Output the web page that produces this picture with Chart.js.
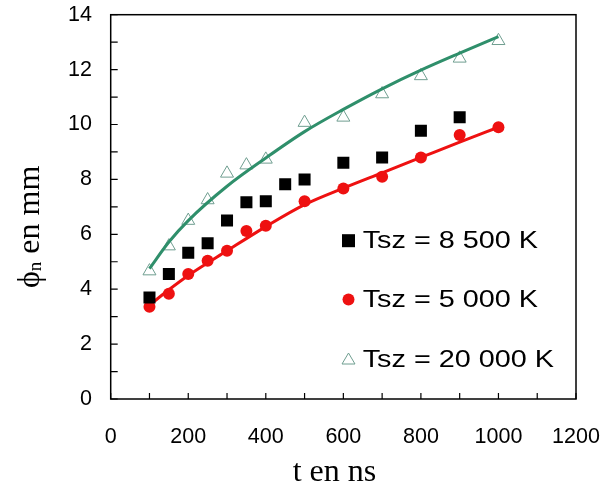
<!DOCTYPE html>
<html>
<head>
<meta charset="utf-8">
<script src="https://cdn.jsdelivr.net/npm/chart.js@4"></script>
<style>
  body { margin: 0; background: #fff; }
  #wrap { width: 602px; height: 486px; }
</style>
</head>
<body>
<div id="wrap"><canvas id="chart" width="602" height="486"></canvas></div>
<script>
// ================= DONNEES =================
const tCarres = [100, 150, 200, 250, 300, 350, 400, 450, 500, 600, 700, 800, 900];
const phiCarres = [3.70, 4.55, 5.33, 5.67, 6.50, 7.17, 7.20, 7.82, 8.00, 8.61, 8.80, 9.77, 10.26];

const tRonds = [100, 150, 200, 250, 300, 350, 400, 500, 600, 700, 800, 900, 1000];
const phiRonds = [3.36, 3.83, 4.55, 5.04, 5.40, 6.12, 6.31, 7.20, 7.67, 8.10, 8.80, 9.62, 9.90];

const tTriangles = [100, 150, 200, 250, 300, 350, 400, 500, 600, 700, 800, 900, 1000];
const phiTriangles = [4.66, 5.57, 6.50, 7.25, 8.22, 8.52, 8.73, 10.07, 10.26, 11.11, 11.77, 12.41, 13.05];

// courbes de tendance
const tCourbe = [100, 150, 200, 300, 400, 500, 600, 700, 800, 900, 1000];
const courbeVerte = [4.75, 5.72, 6.50, 7.75, 8.78, 9.74, 10.55, 11.30, 11.98, 12.60, 13.20];
const courbeRouge = [3.42, 3.98, 4.50, 5.40, 6.28, 7.08, 7.68, 8.24, 8.80, 9.36, 9.90];

const legendes = ["Tsz = 8 500 K", "Tsz = 5 000 K", "Tsz = 20 000 K"];

const VERT = "#2f8f6b";
const VERT_TRI = "#6f9e90";
const ROUGE = "#ee1111";

const paires = (xs, ys) => xs.map((x, i) => ({ x: x, y: ys[i] }));

// ================= PLUGIN CADRE + TICKS =================
const cadre = {
  id: "cadre",
  afterDraw(chart) {
    const ctx = chart.ctx;
    const a = chart.chartArea;
    const sx = chart.scales.x;
    const sy = chart.scales.y;
    ctx.save();
    ctx.strokeStyle = "#000";
    ctx.lineWidth = 1.5;
    ctx.strokeRect(a.left, a.top, a.right - a.left, a.bottom - a.top);

    ctx.lineWidth = 1.2;
    ctx.beginPath();
    sx.ticks.forEach(t => {
      const px = sx.getPixelForValue(t.value);
      ctx.moveTo(px, a.bottom);
      ctx.lineTo(px, a.bottom - 6);
    });
    sy.ticks.forEach(t => {
      const py = sy.getPixelForValue(t.value);
      ctx.moveTo(a.left, py);
      ctx.lineTo(a.left + 7, py);
    });
    ctx.stroke();

    // titre axe x
    ctx.fillStyle = "#000";
    ctx.font = "32px 'Liberation Serif', 'Times New Roman', serif";
    ctx.textAlign = "center";
    ctx.textBaseline = "alphabetic";
    ctx.fillText("t en ns", 334.5, 481);

    // titre axe y avec indice
    ctx.translate(38.5, 288);
    ctx.rotate(-Math.PI / 2);
    ctx.textAlign = "left";
    ctx.font = "32px 'Liberation Serif', 'DejaVu Serif', serif";
    ctx.fillText("\u03D5", 0, 0);
    let w = ctx.measureText("\u03D5").width;
    ctx.font = "19px 'Liberation Serif', serif";
    ctx.fillText("n", w, 2);
    w += ctx.measureText("n").width;
    ctx.font = "32px 'Liberation Serif', serif";
    ctx.fillText(" en mm", w, 0);
    ctx.restore();

    // legende
    const lignesY = [240.7, 299.5, 359];
    const mx = 348.5;
    ctx.save();
    ctx.fillStyle = "#000";
    ctx.fillRect(mx - 6.5, lignesY[0] - 6.5, 13, 13);
    ctx.fillStyle = ROUGE;
    ctx.beginPath();
    ctx.arc(mx, lignesY[1], 6, 0, Math.PI * 2);
    ctx.fill();
    ctx.strokeStyle = VERT_TRI;
    ctx.lineWidth = 1;
    ctx.beginPath();
    ctx.moveTo(mx, lignesY[2] - 6);
    ctx.lineTo(mx + 6.5, lignesY[2] + 5);
    ctx.lineTo(mx - 6.5, lignesY[2] + 5);
    ctx.closePath();
    ctx.stroke();

    ctx.fillStyle = "#000";
    ctx.font = "24px 'Liberation Sans', Arial, sans-serif";
    ctx.textAlign = "left";
    ctx.textBaseline = "middle";
    legendes.forEach((txt, i) => {
      ctx.save();
      ctx.translate(362.7, lignesY[i] + 1);
      ctx.scale(1.2, 1);
      ctx.fillText(txt, 0, 0);
      ctx.restore();
    });
    ctx.restore();
  }
};

// ================= GRAPHIQUE =================
new Chart(document.getElementById("chart"), {
  type: "scatter",
  data: {
    datasets: [
      {
        label: legendes[0],
        data: paires(tCarres, phiCarres),
        pointStyle: "rect",
        pointRadius: 8.5,
        backgroundColor: "#000",
        borderColor: "#000",
        borderWidth: 0,
        order: 1
      },
      {
        label: legendes[1],
        data: paires(tRonds, phiRonds),
        pointStyle: "circle",
        pointRadius: 6,
        backgroundColor: ROUGE,
        borderColor: ROUGE,
        borderWidth: 0,
        order: 1
      },
      {
        label: legendes[2],
        data: paires(tTriangles, phiTriangles),
        pointStyle: "triangle",
        pointRadius: 7.5,
        backgroundColor: "rgba(255,255,255,0)",
        borderColor: VERT_TRI,
        borderWidth: 1,
        order: 1
      },
      {
        label: "fit vert",
        data: paires(tCourbe, courbeVerte),
        showLine: true,
        pointRadius: 0,
        borderColor: VERT,
        borderWidth: 3,
        cubicInterpolationMode: "monotone",
        order: 0
      },
      {
        label: "fit rouge",
        data: paires(tCourbe, courbeRouge),
        showLine: true,
        pointRadius: 0,
        borderColor: ROUGE,
        borderWidth: 3,
        cubicInterpolationMode: "monotone",
        order: 2
      }
    ]
  },
  options: {
    responsive: false,
    animation: false,
    devicePixelRatio: 1,
    layout: { padding: { left: 0, top: 14.7, right: 26, bottom: 0 } },
    plugins: {
      legend: { display: false },
      tooltip: { enabled: false }
    },
    scales: {
      x: {
        type: "linear",
        min: 0,
        max: 1200,
        grid: { display: false, drawTicks: false },
        border: { display: false },
        ticks: {
          stepSize: 100,
          autoSkip: false,
          maxRotation: 0,
          padding: 25,
          color: "#000",
          font: { family: "'Liberation Sans', Arial, sans-serif", size: 21.5 },
          callback: v => (v % 200 === 0 ? String(v) : "")
        },
        afterFit: s => {
          s.height = 87;
          s.paddingLeft = 0;
          s.paddingRight = 0;
        }
      },
      y: {
        min: 0,
        max: 14,
        grid: { display: false, drawTicks: false },
        border: { display: false },
        ticks: {
          stepSize: 1,
          autoSkip: false,
          padding: 18.7,
          color: "#000",
          font: { family: "'Liberation Sans', Arial, sans-serif", size: 21.5 },
          callback: v => (v % 2 === 0 ? String(v) : "")
        },
        afterFit: s => {
          s.width = 110.7;
          s.paddingTop = 0;
          s.paddingBottom = 0;
        }
      }
    }
  },
  plugins: [cadre]
});
</script>
</body>
</html>
